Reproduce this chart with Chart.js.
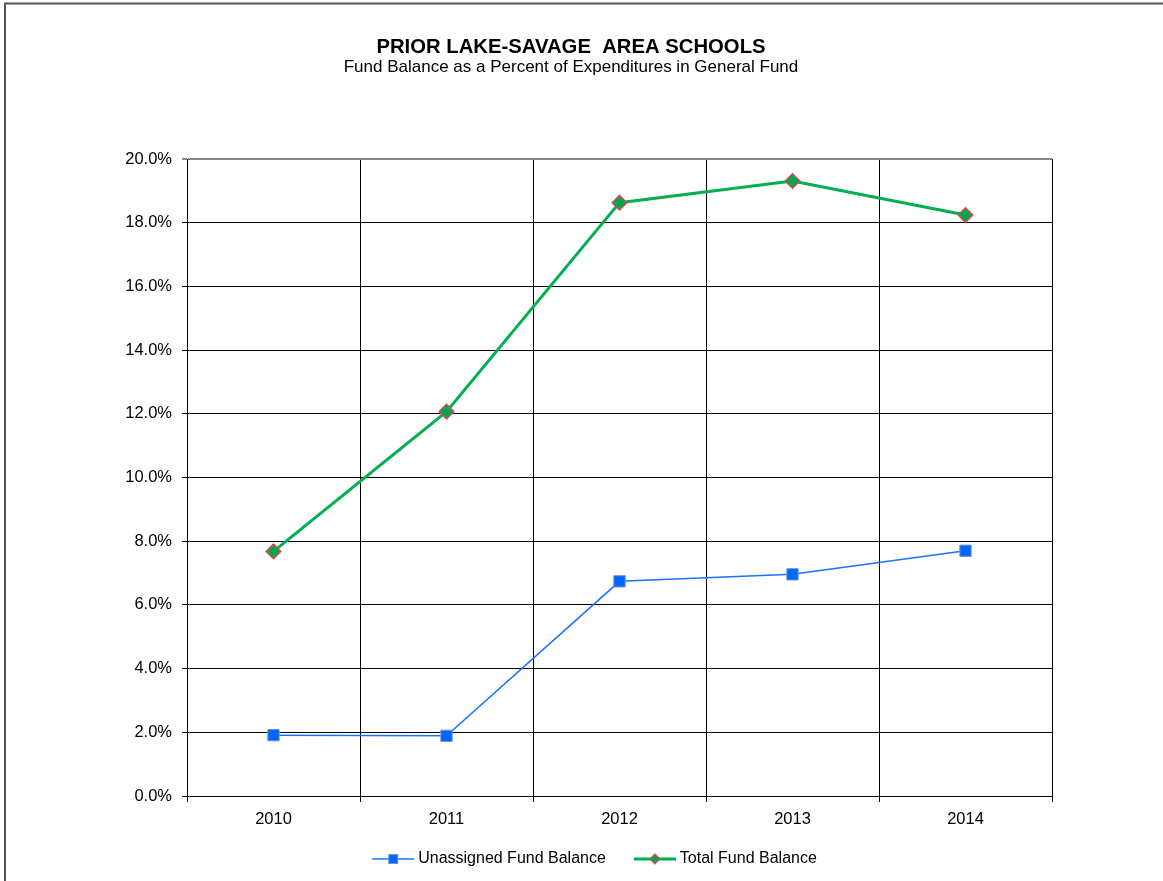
<!DOCTYPE html>
<html>
<head>
<meta charset="utf-8">
<script src="https://cdn.jsdelivr.net/npm/chart.js@4.4.1/dist/chart.umd.min.js"></script>
<style>
  html, body { margin: 0; padding: 0; background: #fff; }
  #wrap { position: relative; width: 1163px; height: 881px; }
</style>
</head>
<body>
<div id="wrap"><canvas id="fund-chart"></canvas></div>
<script>
const years = ['2010', '2011', '2012', '2013', '2014'];
const unassignedBalance = [1.91, 1.89, 6.74, 6.96, 7.70];
const totalBalance = [7.68, 12.07, 18.63, 19.31, 18.24];
const seriesNames = ['Unassigned Fund Balance', 'Total Fund Balance'];

const FONT = "'Liberation Sans', Arial, sans-serif";

// little line+marker pictures for the legend, like the spreadsheet shows.
// left part is left blank so the two items sit further apart
function legendIcon(color, lineWidth, drawMarker) {
  const c = document.createElement('canvas');
  c.width = 53;
  c.height = 16;
  const g = c.getContext('2d');
  g.strokeStyle = color;
  g.lineWidth = lineWidth;
  g.beginPath();
  g.moveTo(11, 8);
  g.lineTo(53, 8);
  g.stroke();
  drawMarker(g, 32, 8);
  return c;
}

const blueIcon = legendIcon('#1a73ff', 1.5, (g, x, y) => {
  g.fillStyle = '#0066ff';
  g.fillRect(x - 4.5, y - 4.5, 9, 9);
  g.strokeStyle = '#6f95d0';
  g.lineWidth = 1;
  g.strokeRect(x - 4.5, y - 4.5, 9, 9);
});

const greenIcon = legendIcon('#00b050', 3, (g, x, y) => {
  g.beginPath();
  g.moveTo(x, y - 5);
  g.lineTo(x + 5, y);
  g.lineTo(x, y + 5);
  g.lineTo(x - 5, y);
  g.closePath();
  g.fillStyle = '#00a651';
  g.fill();
  g.strokeStyle = '#d0504f';
  g.lineWidth = 1.2;
  g.stroke();
});

const framePlugin = {
  id: 'frame',
  beforeDraw(chart) {
    const ctx = chart.ctx;
    ctx.save();
    ctx.fillStyle = '#fff';
    ctx.fillRect(0, 0, chart.width, chart.height);
    ctx.strokeStyle = '#555';
    ctx.lineWidth = 2;
    ctx.beginPath();
    ctx.moveTo(5, chart.height);
    ctx.lineTo(5, 3.5);
    ctx.lineTo(chart.width, 3.5);
    ctx.stroke();
    ctx.restore();
  }
};

// the legend sits a bit right of the title in the original
const legendShift = {
  id: 'legendShift',
  afterLayout(chart) {
    chart.legend.left += 20;
    chart.legend.right += 20;
  }
};

const ctx = document.getElementById('fund-chart').getContext('2d');

new Chart(ctx, {
  type: 'line',
  data: {
    labels: years,
    datasets: [
      {
        label: seriesNames[0],
        data: unassignedBalance,
        borderColor: '#1a73ff',
        borderWidth: 1.5,
        pointStyle: 'rect',
        pointRadius: 8,
        pointHoverRadius: 8,
        pointBackgroundColor: '#0066ff',
        pointBorderColor: '#6f95d0',
        pointBorderWidth: 1,
        tension: 0
      },
      {
        label: seriesNames[1],
        data: totalBalance,
        borderColor: '#00b050',
        borderWidth: 3,
        pointStyle: 'rectRot',
        pointRadius: 7.3,
        pointHoverRadius: 7.3,
        pointBackgroundColor: '#00a651',
        pointBorderColor: '#d0504f',
        pointBorderWidth: 1.5,
        tension: 0
      }
    ]
  },
  options: {
    responsive: true,
    maintainAspectRatio: false,
    animation: false,
    layout: {
      padding: { left: 0, right: 21, top: 0, bottom: 4 }
    },
    scales: {
      x: {
        offset: true,
        grid: {
          offset: true,
          color: (c) => (c.index === years.length ? '#888' : '#000'),
          lineWidth: (c) => (c.index === years.length ? 2 : 1),
          tickLength: 6
        },
        border: { color: '#000', width: 1 },
        ticks: {
          color: '#000',
          font: { family: FONT, size: 16.5 },
          padding: 8
        },
        afterFit(scale) {
          scale.height = 34;
        }
      },
      y: {
        min: 0,
        max: 20,
        grid: {
          color: (c) => (c.tick && c.tick.value === 20 ? '#888' : '#000'),
          lineWidth: (c) => (c.tick && c.tick.value === 20 ? 2 : 1),
          tickLength: 5
        },
        border: { color: '#000', width: 1 },
        ticks: {
          stepSize: 2,
          color: '#000',
          font: { family: FONT, size: 16.5 },
          padding: 10,
          callback: (v) => v.toFixed(1) + '%'
        },
        afterFit(scale) {
          scale.width = 187;
        }
      },
      // empty space on the right of the plot
      spacer: {
        type: 'linear',
        position: 'right',
        grid: { display: false },
        border: { display: false },
        ticks: { display: false },
        afterFit(scale) {
          scale.width = 90;
        }
      }
    },
    plugins: {
      title: {
        display: true,
        text: 'PRIOR LAKE-SAVAGE  AREA SCHOOLS',
        color: '#000',
        font: { family: FONT, size: 20.3, weight: 'bold', lineHeight: 1.1 },
        padding: { top: 36, bottom: 0 }
      },
      subtitle: {
        display: true,
        text: 'Fund Balance as a Percent of Expenditures in General Fund',
        color: '#000',
        font: { family: FONT, size: 17, lineHeight: 1.1 },
        padding: { top: 0, bottom: 82 }
      },
      legend: {
        position: 'bottom',
        labels: {
          usePointStyle: true,
          pointStyleWidth: 45,
          color: '#000',
          font: { family: FONT, size: 16 },
          padding: 21,
          generateLabels(chart) {
            const items = Chart.defaults.plugins.legend.labels.generateLabels(chart);
            items[0].pointStyle = blueIcon;
            items[1].pointStyle = greenIcon;
            return items;
          }
        }
      },
      tooltip: { enabled: false }
    }
  },
  plugins: [framePlugin, legendShift]
});
</script>
</body>
</html>
